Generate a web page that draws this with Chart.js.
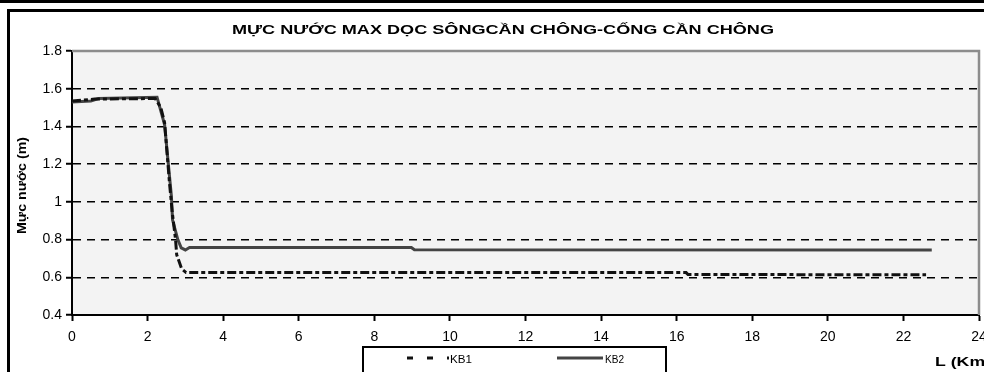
<!DOCTYPE html>
<html lang="vi">
<head>
<meta charset="UTF-8">
<title>Mực nước max dọc sông Cần Chông</title>
<script src="https://cdn.jsdelivr.net/npm/chart.js@4.4.1/dist/chart.umd.min.js"></script>
<style>
    html, body { margin: 0; padding: 0; background: #fff; }
    .chart-box { position: relative; width: 984px; height: 372px; }
</style>
</head>
<body>
<div class="chart-box"><canvas id="levelChart"></canvas></div>
<script>
// texts
const chartTitle = 'MỰC NƯỚC MAX DỌC SÔNGCẦN CHÔNG-CỐNG CẦN CHÔNG';
const yAxisTitle = 'Mực nước (m)';
const xAxisTitle = 'L (Km)';
const seriesNames = ['KB1', 'KB2'];

// KB1
const kb1X = [0, 0.6, 2.2, 2.35, 2.45, 2.58, 2.65, 2.74, 2.77, 2.9, 3.02, 16.25, 16.3, 22.6];
const kb1Y = [1.535, 1.545, 1.548, 1.5, 1.42, 1.1, 0.95, 0.8, 0.72, 0.645, 0.625, 0.625, 0.615, 0.613];

// KB2
const kb2X = [0, 0.5, 0.7, 2.25, 2.45, 2.54, 2.63, 2.66, 2.8, 2.89, 3.0, 3.11, 8.98, 9.06, 22.75];
const kb2Y = [1.53, 1.535, 1.548, 1.555, 1.41, 1.22, 1.03, 0.905, 0.8, 0.756, 0.745, 0.758, 0.758, 0.746, 0.745];

// axis ticks
const xTicks = [0, 2, 4, 6, 8, 10, 12, 14, 16, 18, 20, 22, 24];
const yTicks = [0.4, 0.6, 0.8, 1, 1.2, 1.4, 1.6, 1.8];

const fontFamily = '"Liberation Sans", Arial, sans-serif';

function toPoints(xs, ys) {
    return xs.map((x, i) => ({ x: x, y: ys[i] }));
}

// draw text squeezed/stretched to a given width
function drawFitted(ctx, text, x, y, width) {
    const natural = ctx.measureText(text).width;
    ctx.save();
    ctx.translate(x, y);
    ctx.scale(width / natural, 1);
    ctx.textAlign = 'left';
    ctx.fillText(text, 0, 0);
    ctx.restore();
}

const framePlugin = {
    id: 'frame',
    beforeDraw(chart) {
        const ctx = chart.ctx;
        const a = chart.chartArea;
        ctx.save();
        ctx.fillStyle = '#fff';
        ctx.fillRect(0, 0, chart.width, chart.height);
        ctx.fillStyle = '#000';
        ctx.fillRect(0, 0, chart.width, 3);
        ctx.lineWidth = 3;
        ctx.strokeStyle = '#000';
        ctx.strokeRect(8.5, 10.5, chart.width + 10, chart.height + 10);
        ctx.fillStyle = '#f3f3f3';
        ctx.fillRect(a.left, a.top, a.right - a.left, a.bottom - a.top);
        ctx.restore();
    },
    afterDraw(chart) {
        const ctx = chart.ctx;
        const a = chart.chartArea;
        const sets = chart.data.datasets;
        ctx.save();

        // gray top / right border of plot
        ctx.strokeStyle = '#8c8c8c';
        ctx.lineWidth = 2.5;
        ctx.beginPath();
        ctx.moveTo(a.left, a.top);
        ctx.lineTo(a.right, a.top);
        ctx.lineTo(a.right, a.bottom);
        ctx.stroke();

        ctx.fillStyle = '#000';
        ctx.textBaseline = 'middle';

        // title
        ctx.font = 'bold 12.5px ' + fontFamily;
        drawFitted(ctx, chartTitle, 232, 31, 542);

        // y axis title
        ctx.save();
        ctx.translate(22, 186);
        ctx.rotate(-Math.PI / 2);
        ctx.font = 'bold 13px ' + fontFamily;
        drawFitted(ctx, yAxisTitle, -48, 0, 97);
        ctx.restore();

        // x axis title
        ctx.font = 'bold 13px ' + fontFamily;
        drawFitted(ctx, xAxisTitle, 935, 362, 56);

        // legend
        ctx.strokeStyle = '#000';
        ctx.lineWidth = 2;
        ctx.strokeRect(363, 347, 303, 40);

        ctx.lineWidth = 3;
        ctx.strokeStyle = sets[0].borderColor;
        ctx.setLineDash([6, 14]);
        ctx.beginPath();
        ctx.moveTo(407, 358);
        ctx.lineTo(449, 358);
        ctx.stroke();

        ctx.setLineDash([]);
        ctx.strokeStyle = sets[1].borderColor;
        ctx.beginPath();
        ctx.moveTo(557, 358);
        ctx.lineTo(603, 358);
        ctx.stroke();

        ctx.font = '10.5px ' + fontFamily;
        drawFitted(ctx, sets[0].label, 450, 360, 22);
        drawFitted(ctx, sets[1].label, 605, 360, 19);

        ctx.restore();
    }
};

function init() {
    const ctx = document.getElementById('levelChart').getContext('2d');
    new Chart(ctx, {
        type: 'line',
        data: {
            datasets: [
                {
                    label: seriesNames[0],
                    data: toPoints(kb1X, kb1Y),
                    borderColor: '#111111',
                    borderWidth: 3,
                    borderDash: [9, 3, 4, 3],
                    pointRadius: 0,
                    tension: 0,
                    fill: false
                },
                {
                    label: seriesNames[1],
                    data: toPoints(kb2X, kb2Y),
                    borderColor: '#444444',
                    borderWidth: 3,
                    pointRadius: 0,
                    tension: 0,
                    fill: false
                }
            ]
        },
        options: {
            responsive: true,
            maintainAspectRatio: false,
            animation: false,
            layout: { padding: { left: 0, right: 5, top: 51, bottom: 0 } },
            plugins: {
                legend: { display: false },
                title: { display: false },
                tooltip: { enabled: false }
            },
            scales: {
                x: {
                    type: 'linear',
                    min: 0,
                    max: 24,
                    afterBuildTicks: s => { s.ticks = xTicks.map(v => ({ value: v })); },
                    afterFit: s => { s.height = 57; s.paddingLeft = 0; s.paddingRight = 0; },
                    grid: { drawOnChartArea: false, tickLength: 6, tickWidth: 2, tickColor: '#000' },
                    border: { color: '#000', width: 2 },
                    ticks: {
                        color: '#000',
                        font: { family: fontFamily, size: 14 },
                        padding: 8,
                        maxRotation: 0,
                        autoSkip: false
                    }
                },
                y: {
                    type: 'linear',
                    min: 0.4,
                    max: 1.8,
                    afterBuildTicks: s => { s.ticks = yTicks.map(v => ({ value: v })); },
                    afterFit: s => { s.width = 72; },
                    grid: {
                        color: c => (c.tick && c.tick.value > 0.45 && c.tick.value < 1.75) ? '#000' : 'rgba(0,0,0,0)',
                        lineWidth: 1.5,
                        tickLength: 6,
                        tickWidth: 2,
                        tickColor: '#000',
                        tickBorderDash: []
                    },
                    border: { color: '#000', width: 2, dash: [8, 6] },
                    ticks: {
                        color: '#000',
                        font: { family: fontFamily, size: 14 },
                        padding: 4,
                        autoSkip: false,
                        callback: v => String(Number(v.toFixed(1)))
                    }
                }
            }
        },
        plugins: [framePlugin]
    });
}

window.addEventListener('load', init);
</script>
</body>
</html>
